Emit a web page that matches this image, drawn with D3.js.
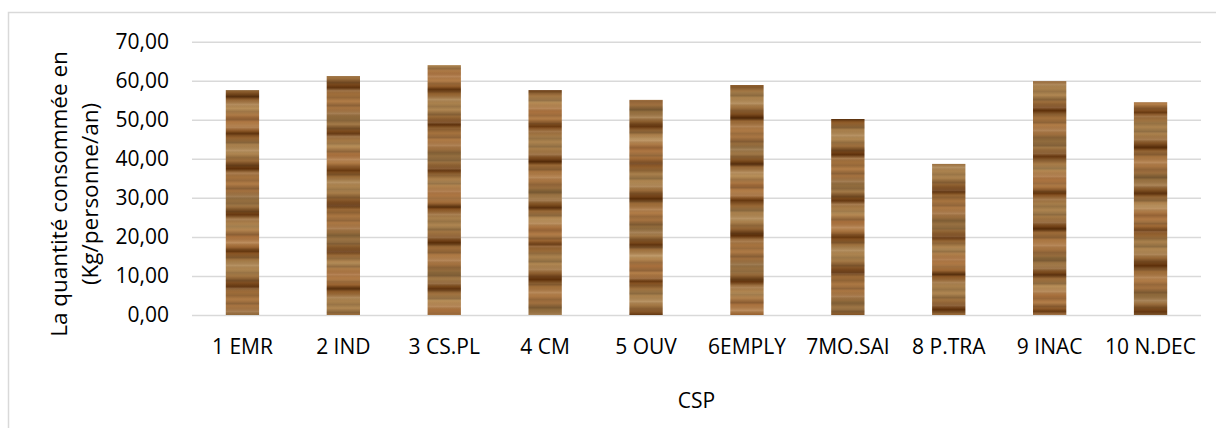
<!DOCTYPE html>
<html>
<head>
<meta charset="utf-8">
<script src="https://cdn.jsdelivr.net/npm/d3@7"></script>
<style>
  html, body { margin: 0; padding: 0; background: #fff; }
  svg { display: block; font-family: "Open Sans", "Noto Sans", sans-serif; }
  .tick text { fill: #000; }
</style>
</head>
<body>
<div id="chart"></div>
<script>
// categories (CSP) and consumption in kg/person/year
const categories = ["1 EMR", "2 IND", "3 CS.PL", "4 CM", "5 OUV", "6EMPLY", "7MO.SAI", "8 P.TRA", "9 INAC", "10 N.DEC"];
const values = [57.6, 61.2, 64.0, 57.6, 55.1, 58.9, 50.2, 38.7, 59.9, 54.5];
const yTicks = [0, 10, 20, 30, 40, 50, 60, 70];

const width = 1216;
const height = 428;
const margin = { top: 41.7, right: 15, bottom: 113, left: 192 };
const fontSize = 21;

const fr = d3.formatLocale({ decimal: ",", thousands: " ", grouping: [3], currency: ["", "€"] });
const fmt = fr.format(".2f");

const svg = d3.select("#chart").append("svg")
  .attr("width", width)
  .attr("height", height);

// wood texture for the bars: a slow grain and a finer grain on top
const defs = svg.append("defs");
const grainStops = [
  [0, "#a86f3c"], [0.06, "#b5804a"], [0.1, "#9a6431"], [0.13, "#6a3a10"], [0.15, "#8d5826"],
  [0.22, "#a9804c"], [0.3, "#b08752"], [0.36, "#9b6c3a"], [0.41, "#744318"], [0.43, "#5e3009"],
  [0.46, "#9a6936"], [0.55, "#b27d47"], [0.62, "#a3713f"], [0.68, "#8f6a3c"], [0.74, "#a47a48"],
  [0.8, "#7b4a1c"], [0.82, "#673810"], [0.85, "#9a6a38"], [0.92, "#b9905a"], [1, "#a86f3c"]
];
const fineStops = [
  [0, "#000", 0], [0.2, "#000", 0.18], [0.3, "#000", 0], [0.55, "#fff", 0.12], [0.7, "#000", 0],
  [0.85, "#000", 0.12], [1, "#000", 0]
];
defs.append("linearGradient")
  .attr("id", "grain")
  .attr("x1", 0).attr("y1", 0).attr("x2", 0).attr("y2", 1)
  .selectAll("stop").data(grainStops).join("stop")
  .attr("offset", d => d[0])
  .attr("stop-color", d => d[1]);
defs.append("linearGradient")
  .attr("id", "fine")
  .attr("x1", 0).attr("y1", 0).attr("x2", 0).attr("y2", 1)
  .selectAll("stop").data(fineStops).join("stop")
  .attr("offset", d => d[0])
  .attr("stop-color", d => d[1])
  .attr("stop-opacity", d => d[2]);

categories.forEach((c, i) => {
  const p = defs.append("pattern")
    .attr("id", `wood${i}`)
    .attr("patternUnits", "userSpaceOnUse")
    .attr("width", 40)
    .attr("height", 118)
    .attr("patternTransform", `translate(0,${(i * 37) % 118})`);
  p.append("rect").attr("width", 40).attr("height", 118).attr("fill", "url(#grain)");
  const q = defs.append("pattern")
    .attr("id", `fine${i}`)
    .attr("patternUnits", "userSpaceOnUse")
    .attr("width", 40)
    .attr("height", 23)
    .attr("patternTransform", `translate(0,${(i * 9) % 23})`);
  q.append("rect").attr("width", 40).attr("height", 23).attr("fill", "url(#fine)");
});

// outer chart border
svg.append("rect")
  .attr("x", 8.5).attr("y", 12.5)
  .attr("width", 1400).attr("height", 600)
  .attr("fill", "none")
  .attr("stroke", "#d9d9d9")
  .attr("stroke-width", 1.5);

const x = d3.scaleBand()
  .domain(categories)
  .range([margin.left, width - margin.right])
  .paddingInner(0.67)
  .paddingOuter(0.335);

const y = d3.scaleLinear()
  .domain([0, 70])
  .range([height - margin.bottom, margin.top]);

// gridlines + y axis labels
svg.append("g")
  .attr("transform", `translate(${margin.left},0)`)
  .call(d3.axisLeft(y).tickValues(yTicks).tickFormat(fmt)
    .tickSize(-(width - margin.right - margin.left)).tickPadding(23))
  .call(g => g.select(".domain").remove())
  .call(g => g.selectAll(".tick line").attr("stroke", "#d9d9d9").attr("stroke-width", 1.5))
  .call(g => g.selectAll(".tick text").attr("font-size", fontSize).attr("font-family", "Open Sans"));

// bars
const bars = svg.append("g")
  .selectAll("g")
  .data(values)
  .join("g");
bars.append("rect")
  .attr("x", (d, i) => x(categories[i]))
  .attr("y", d => y(d))
  .attr("width", x.bandwidth())
  .attr("height", d => y(0) - y(d))
  .attr("fill", (d, i) => `url(#wood${i})`);
bars.append("rect")
  .attr("x", (d, i) => x(categories[i]))
  .attr("y", d => y(d))
  .attr("width", x.bandwidth())
  .attr("height", d => y(0) - y(d))
  .attr("fill", (d, i) => `url(#fine${i})`);

// x axis labels
svg.append("g")
  .attr("transform", `translate(0,${y(0)})`)
  .call(d3.axisBottom(x).tickSize(0).tickPadding(24))
  .call(g => g.select(".domain").remove())
  .call(g => g.selectAll(".tick text").attr("font-size", fontSize).attr("font-family", "Open Sans"));

// axis titles
svg.append("text")
  .attr("x", (margin.left + width - margin.right) / 2)
  .attr("y", 408)
  .attr("text-anchor", "middle")
  .attr("font-size", fontSize)
  .text("CSP");

const yTitle = svg.append("text")
  .attr("transform", "translate(0,194) rotate(-90)")
  .attr("text-anchor", "middle")
  .attr("font-size", 22.5);
yTitle.append("tspan").attr("x", 0).attr("y", 67).text("La quantité consommée en");
yTitle.append("tspan").attr("x", 0).attr("y", 98).text("(Kg/personne/an)");
</script>
</body>
</html>
